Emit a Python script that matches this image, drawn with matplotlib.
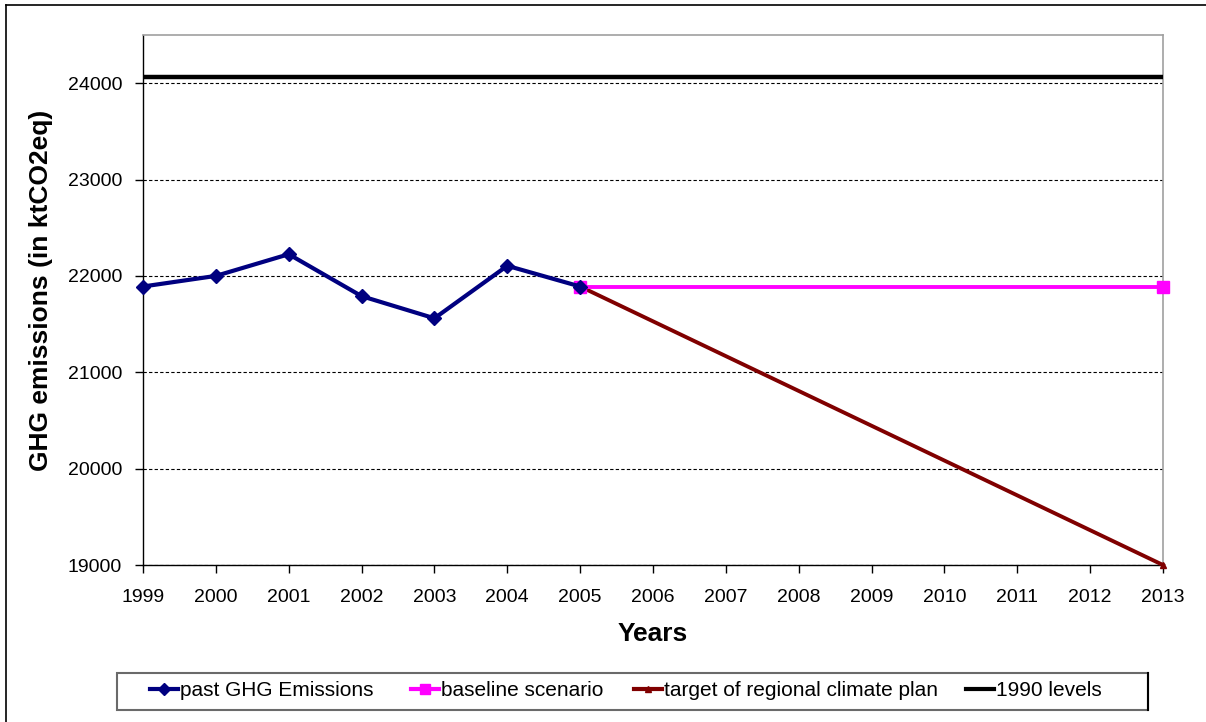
import matplotlib
matplotlib.use("Agg")
import matplotlib.pyplot as plt
from matplotlib.lines import Line2D
from matplotlib.patches import Rectangle

plt.rcParams['font.family'] = ['Liberation Sans', 'DejaVu Sans']

years = ['1999', '2000', '2001', '2002', '2003', '2004', '2005', '2006', '2007',
         '2008', '2009', '2010', '2011', '2012', '2013']
past_years = ['1999', '2000', '2001', '2002', '2003', '2004', '2005']
past_values = [21890, 22000, 22225, 21790, 21560, 22105, 21890]
baseline_years = ['2005', '2013']
baseline_values = [21890, 21890]
target_years = ['2005', '2013']
target_values = [21890, 19000]
level_1990 = 24060
yticks = [19000, 20000, 21000, 22000, 23000, 24000]
series_labels = ['past GHG Emissions', 'baseline scenario', 'target of regional climate plan', '1990 levels']

idx = {y: i for i, y in enumerate(years)}

W, H = 1206, 722
fig = plt.figure(figsize=(W/100, H/100), dpi=100)
ax = fig.add_axes([143/W, 1-565/H, (1163-143)/W, (565-35)/H])

ax.set_xlim(0, len(years)-1)
ax.set_ylim(19000, 24500)
ax.set_yticks(yticks)
ax.set_xticks(range(len(years)))
ax.set_xticklabels(years)
ax.yaxis.grid(True, linestyle=(0, (3, 2)), color='black', linewidth=0.8)
ax.set_axisbelow(True)

for s in ['top', 'right']:
    ax.spines[s].set_color('#a0a0a0')
    ax.spines[s].set_linewidth(1.2)
for s in ['left', 'bottom']:
    ax.spines[s].set_color('black')
    ax.spines[s].set_linewidth(1.0)

ax.tick_params(axis='both', direction='out', length=6, width=1, labelsize=14)
ax.tick_params(axis='x', pad=11)
ax.tick_params(axis='y', pad=9)

ax.axhline(level_1990, color='black', linewidth=3.2, zorder=3)
ax.plot([idx[y] for y in target_years], target_values, color='#800000', linewidth=2.8,
        marker='^', markersize=5, zorder=4, clip_on=False)
ax.plot([idx[y] for y in baseline_years], baseline_values, color='#ff00ff', linewidth=2.8,
        marker='s', markersize=9, zorder=4, clip_on=False)
ax.plot([idx[y] for y in past_years], past_values, color='#000080', linewidth=3,
        marker='D', markersize=7.5, zorder=5, clip_on=False)

ax.set_xlabel('Years', fontsize=19, fontweight='bold', labelpad=12)
ax.set_ylabel('GHG emissions (in ktCO2eq)', fontsize=19, fontweight='bold')
ax.yaxis.set_label_coords(-(143-53)/(1163-143), (565-290)/(565-35))

handles = [
    Line2D([], [], color='#000080', linewidth=3, marker='D', markersize=6),
    Line2D([], [], color='#ff00ff', linewidth=3, marker='s', markersize=7),
    Line2D([], [], color='#800000', linewidth=3, marker='^', markersize=5),
    Line2D([], [], color='black', linewidth=3),
]
entry_x = [150, 411, 634, 966]
for h, lab, x in zip(handles, series_labels, entry_x):
    fig.legend([h], [lab], loc='center left', bbox_to_anchor=(x/W, 1-691/H),
               fontsize=15, frameon=False, handlelength=1.35, handletextpad=0.1,
               borderpad=0, borderaxespad=0)

# legend frame (Excel style, wider than its content)
fig.add_artist(Rectangle((117/W, 1-710/H), (1148-117)/W, (710-673)/H, transform=fig.transFigure,
                         facecolor='none', edgecolor='#6a6a6a', linewidth=1.5))
fig.add_artist(Line2D([1148/W, 1148/W], [1-710/H, 1-673/H], transform=fig.transFigure,
                      color='black', linewidth=1.5))

# outer chart border (left and top edges visible)
fig.add_artist(Line2D([6/W, 6/W], [0, 1-5/H], transform=fig.transFigure, color='black', linewidth=1.2))
fig.add_artist(Line2D([6/W, 1], [1-5/H, 1-5/H], transform=fig.transFigure, color='black', linewidth=1.2))

fig.savefig('out.png', dpi=100)
